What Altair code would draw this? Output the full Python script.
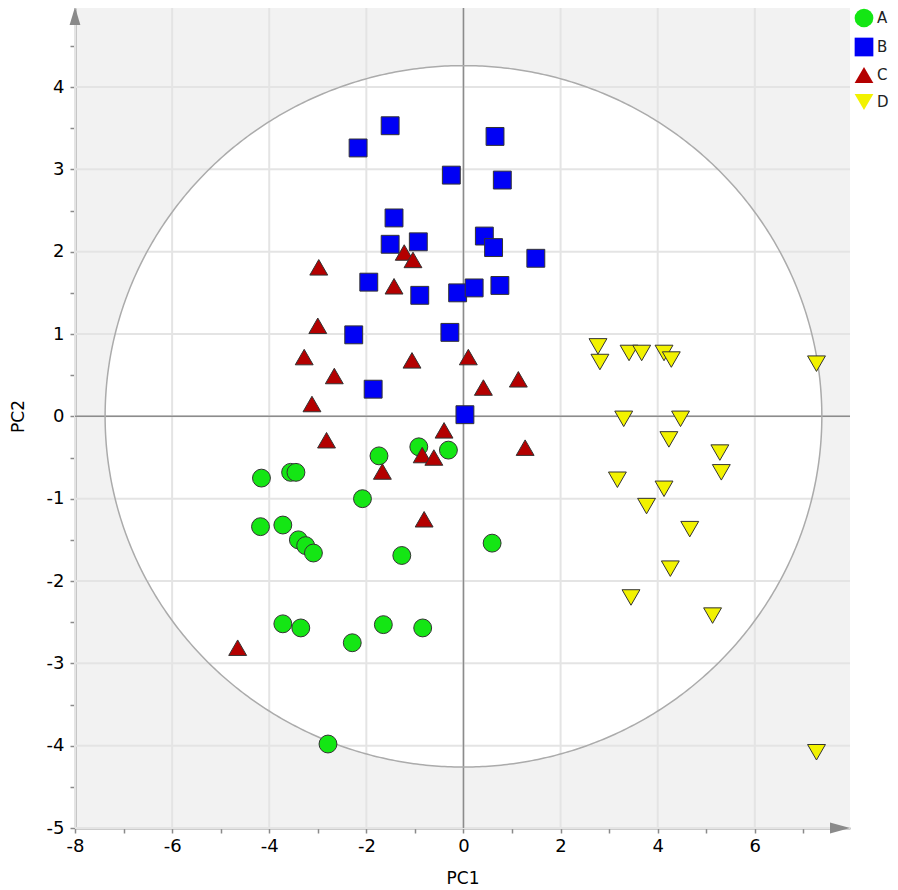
import altair as alt
import pandas as pd
import numpy as np

# ---------------- data ----------------
groups = ["A", "B", "C", "D"]
colors = ["#14e614", "#0000f5", "#b40000", "#f2f200"]
shapes = ["circle", "square", "triangle-up", "triangle-down"]

a_x = [-4.16, -3.56, -3.45, -1.74, -0.92, -0.31, -2.08, -4.18, -3.72, -3.40,
       -3.25, -3.09, -1.27, 0.59, -3.72, -3.35, -2.29, -1.65, -0.84, -2.79]
a_y = [-0.75, -0.68, -0.68, -0.48, -0.37, -0.41, -1.00, -1.34, -1.32, -1.50,
       -1.57, -1.66, -1.69, -1.54, -2.52, -2.57, -2.75, -2.53, -2.57, -3.98]

b_x = [-1.51, -2.17, 0.65, -0.25, 0.80, -1.43, -1.51, -0.93, 0.43, 0.62,
       1.49, -1.95, -0.90, -0.12, 0.22, 0.75, -2.26, -0.28, -1.86, 0.03]
b_y = [3.53, 3.26, 3.40, 2.93, 2.87, 2.41, 2.09, 2.12, 2.19, 2.05,
       1.92, 1.63, 1.47, 1.50, 1.56, 1.59, 0.99, 1.02, 0.33, 0.02]

c_x = [-2.98, -1.22, -1.04, -1.43, -3.00, -3.28, -2.66, -1.06, 0.10, 1.13,
       0.41, -3.12, -0.40, -2.82, 1.27, -0.85, -0.61, -1.67, -0.81, -4.65]
c_y = [1.81, 1.99, 1.90, 1.58, 1.10, 0.72, 0.49, 0.68, 0.72, 0.45,
       0.35, 0.15, -0.17, -0.29, -0.38, -0.47, -0.50, -0.67, -1.25, -2.81]

d_x = [2.77, 2.81, 3.41, 3.67, 4.13, 4.28, 7.27, 3.30, 4.47, 4.23,
       5.28, 5.31, 3.17, 4.13, 3.77, 4.66, 4.26, 3.45, 5.13, 7.27]
d_y = [0.85, 0.66, 0.77, 0.77, 0.77, 0.69, 0.64, -0.03, -0.03, -0.28,
       -0.44, -0.68, -0.77, -0.88, -1.09, -1.37, -1.85, -2.20, -2.42, -4.08]

# confidence ellipse semi-axes
ELL_A = 7.38
ELL_B = 4.26

x_grid = [-8, -6, -4, -2, 0, 2, 4, 6]
y_grid = [-5, -4, -3, -2, -1, 0, 1, 2, 3, 4]
zero_line = [0]
x_ticks = list(range(-8, 8))
y_ticks = [-5 + 0.5 * i for i in range(20)]

# ---------------- tables ----------------
df = pd.DataFrame({
    "PC1": a_x + b_x + c_x + d_x,
    "PC2": a_y + b_y + c_y + d_y,
    "group": ["A"] * len(a_x) + ["B"] * len(b_x) + ["C"] * len(c_x) + ["D"] * len(d_x),
})

tt = np.linspace(-ELL_A, ELL_A, 401)
half = ELL_B * np.sqrt(np.clip(1 - (tt / ELL_A) ** 2, 0, None))
ell_fill = pd.DataFrame({"PC1": tt, "PC2": half, "PC2b": -half})
th = np.linspace(0, 2 * np.pi, 721)
ell_line = pd.DataFrame({"PC1": ELL_A * np.cos(th), "PC2": ELL_B * np.sin(th), "i": np.arange(721)})

FONT = "DejaVu Sans"
xs = alt.Scale(domain=[-8, 7.96], nice=False, zero=False)
ys = alt.Scale(domain=[-5, 4.96], nice=False, zero=False)

x_axis = alt.Axis(
    values=x_ticks,
    labelExpr="datum.value % 2 == 0 ? '' + datum.value : ''",
    grid=False, labelFlush=False, labelOverlap=False,
    domainColor="#9a9a9a", domainWidth=2,
    tickColor="#8a8a8a", tickSize=5, tickWidth=1.5,
    labelFont=FONT, labelFontSize=18, labelColor="black", labelPadding=4,
    titleFont=FONT, titleFontSize=17, titleFontWeight="normal", titleColor="black",
    titleY=50, titleBaseline="middle",
)
y_axis = alt.Axis(
    values=y_ticks,
    labelExpr="datum.value % 1 == 0 ? '' + datum.value : ''",
    grid=False, labelFlush=False, labelOverlap=False,
    domainColor="#9a9a9a", domainWidth=2,
    tickColor="#8a8a8a", tickSize=5, tickWidth=1.5,
    labelFont=FONT, labelFontSize=18, labelColor="black", labelPadding=6,
    titleFont=FONT, titleFontSize=17, titleFontWeight="normal", titleColor="black",
    titleAngle=270, titleX=-57, titleY=408, titleAlign="center", titleBaseline="middle",
)

def X(f):
    return alt.X(f, scale=xs, axis=x_axis, title="PC1")

def Y(f):
    return alt.Y(f, scale=ys, axis=y_axis, title="PC2")

ell_area = alt.Chart(ell_fill).mark_area(color="white", opacity=1).encode(
    x=X("PC1:Q"), y=Y("PC2:Q"), y2="PC2b:Q"
)
grid_x = alt.Chart(pd.DataFrame({"PC1": x_grid})).mark_rule(color="#e4e4e4", strokeWidth=2).encode(x=X("PC1:Q"))
grid_y = alt.Chart(pd.DataFrame({"PC2": y_grid})).mark_rule(color="#e4e4e4", strokeWidth=2).encode(y=Y("PC2:Q"))
zero_x = alt.Chart(pd.DataFrame({"PC1": zero_line})).mark_rule(color="#8c8c8c", strokeWidth=1.5).encode(x=X("PC1:Q"))
zero_y = alt.Chart(pd.DataFrame({"PC2": zero_line})).mark_rule(color="#8c8c8c", strokeWidth=1.5).encode(y=Y("PC2:Q"))
ell_outline = alt.Chart(ell_line).mark_line(color="#ababab", strokeWidth=1.5).encode(
    x=X("PC1:Q"), y=Y("PC2:Q"), order="i:Q"
)

legend = alt.Legend(
    title=None, orient="none", legendX=779, legendY=0, padding=0,
    symbolSize=350, symbolStrokeColor="#333333", symbolStrokeWidth=1,
    labelFont=FONT, labelFontSize=15, labelColor="#222222",
    labelOffset=3, rowPadding=5,
)
points = alt.Chart(df).mark_point(
    filled=True, size=320, stroke="#333333", strokeWidth=1, opacity=1
).encode(
    x=X("PC1:Q"), y=Y("PC2:Q"),
    fill=alt.Fill("group:N", scale=alt.Scale(domain=groups, range=colors), legend=legend),
    shape=alt.Shape("group:N", scale=alt.Scale(domain=groups, range=shapes), legend=legend),
)

one = alt.Data(values=[{"k": 1}])
y_arrow = alt.Chart(one).mark_point(
    shape="M0,-1L0.6,1L-0.6,1Z", size=324, filled=True, color="#8a8a8a", opacity=1
).encode(x=alt.value(0), y=alt.value(8))
x_arrow = alt.Chart(one).mark_point(
    shape="M1,0L-1,-0.55L-1,0.55Z", size=400, filled=True, color="#8a8a8a", opacity=1
).encode(x=alt.value(765), y=alt.value(820))

chart = alt.layer(
    ell_area, grid_x, grid_y, zero_x, zero_y, ell_outline, points, y_arrow, x_arrow
).properties(
    width=775, height=820,
    autosize=alt.AutoSizeParams(type="none"),
    padding={"left": 67, "top": 0, "right": 40, "bottom": 58},
).configure_view(fill="#f2f2f2", stroke=None)

chart.save("out.html", embed_options={"renderer": "svg", "actions": False})
